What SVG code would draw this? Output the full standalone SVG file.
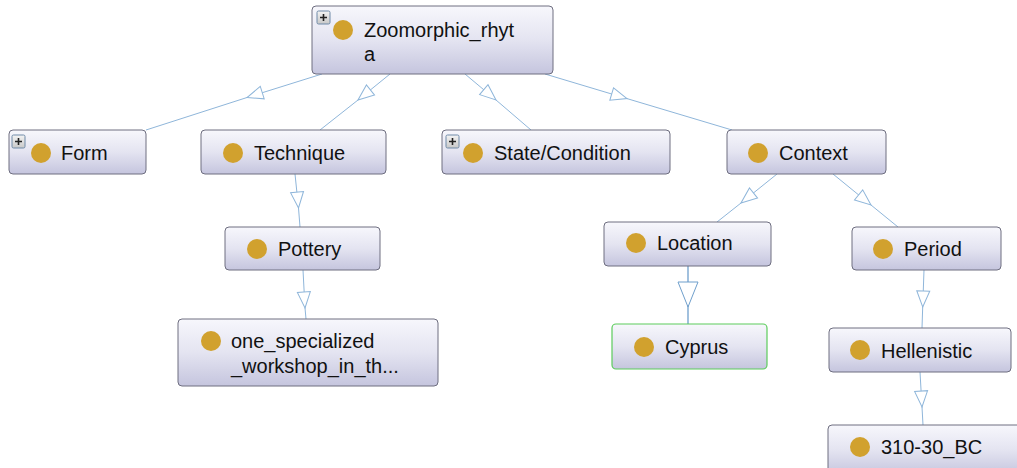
<svg xmlns="http://www.w3.org/2000/svg" width="1017" height="468" viewBox="0 0 1017 468">
  <defs>
    <linearGradient id="nodeFill" x1="0" y1="0" x2="0" y2="1">
      <stop offset="0" stop-color="#f7f7fc"/>
      <stop offset="0.5" stop-color="#e4e4f1"/>
      <stop offset="1" stop-color="#c5c5de"/>
    </linearGradient>
    <linearGradient id="plusFill" x1="0" y1="0" x2="0" y2="1">
      <stop offset="0" stop-color="#f4f4f4"/>
      <stop offset="1" stop-color="#c8c8c8"/>
    </linearGradient>
    <marker id="tri" markerUnits="userSpaceOnUse" markerWidth="20" markerHeight="16" viewBox="-17 -8 18 16" refX="0" refY="0" orient="auto">
      <path d="M0,0 L-16,-6.5 L-16,6.5 Z" fill="#ffffff" stroke="#8fb6da" stroke-width="1"/>
    </marker>
    <marker id="triBig" markerUnits="userSpaceOnUse" markerWidth="28" markerHeight="24" viewBox="-26 -12 27 24" refX="0" refY="0" orient="auto">
      <path d="M0,0 L-25,-10 L-25,10 Z" fill="#ffffff" stroke="#6f9fcc" stroke-width="1"/>
    </marker>
  </defs>
  <style>
    .box { fill: url(#nodeFill); stroke: #6e6e80; stroke-width: 1; }
    .boxSel { fill: url(#nodeFill); stroke: #5ccc5c; stroke-width: 1.2; }
    .dot { fill: #d1a12e; }
    .lbl { font-family: "Liberation Sans", Arial, sans-serif; font-size: 20px; fill: #111111; }
    .plus rect { fill: url(#plusFill); stroke: #6f8aa8; stroke-width: 1; }
    .plus path { stroke: #222222; stroke-width: 1.6; fill: none; }
    .edge { fill: none; stroke: #8fb6da; stroke-width: 1; marker-mid: url(#tri); }
    .edgeDark { fill: none; stroke: #6f9fcc; stroke-width: 1.3; marker-mid: url(#triBig); }
  </style>

  <!-- subclass links, open triangle mid-way pointing to the child -->
  <g id="connectors">
    <polyline class="edge" points="322,74 247,97.5 146,130"/>
    <polyline class="edge" points="390,74 358,100 320,130"/>
    <polyline class="edge" points="465,74 496,100 531,130"/>
    <polyline class="edge" points="545,74 627,98.6 732,130"/>
    <polyline class="edge" points="777,174 741,203 717,222"/>
    <polyline class="edge" points="833,174 871,205 898,227"/>
    <polyline class="edge" points="295,174 298.5,208 300,227"/>
    <polyline class="edge" points="303,270 305,308 306,319"/>
    <polyline class="edgeDark" points="688,266 688,307 688,324"/>
    <polyline class="edge" points="924,270 922.7,307 922,328"/>
    <polyline class="edge" points="920,372 922,407 923,425"/>
  </g>

  <g id="node-zoomorphic">
    <rect class="box" x="312" y="6" width="241" height="68" rx="4"/>
    <g class="plus"><rect x="317" y="11" width="13" height="13" rx="1.5"/><path d="M320,17.5 H327 M323.5,14 V21"/></g>
    <circle class="dot" cx="343" cy="30" r="10"/>
    <text class="lbl" x="364" y="37">Zoomorphic_rhyt</text>
    <text class="lbl" x="364" y="61">a</text>
  </g>

  <g id="node-form">
    <rect class="box" x="9" y="130" width="137" height="44" rx="4"/>
    <g class="plus"><rect x="12" y="135" width="13" height="13" rx="1.5"/><path d="M15,141.5 H22 M18.5,138 V145"/></g>
    <circle class="dot" cx="41" cy="153" r="10"/>
    <text class="lbl" x="61" y="160">Form</text>
  </g>

  <g id="node-technique">
    <rect class="box" x="201" y="130" width="185" height="44" rx="4"/>
    <circle class="dot" cx="233" cy="153" r="10"/>
    <text class="lbl" x="254" y="160">Technique</text>
  </g>

  <g id="node-state">
    <rect class="box" x="442" y="130" width="228" height="44" rx="4"/>
    <g class="plus"><rect x="446" y="135" width="13" height="13" rx="1.5"/><path d="M449,141.5 H456 M452.5,138 V145"/></g>
    <circle class="dot" cx="473" cy="153" r="10"/>
    <text class="lbl" x="494" y="160">State/Condition</text>
  </g>

  <g id="node-context">
    <rect class="box" x="727" y="130" width="159" height="44" rx="4"/>
    <circle class="dot" cx="758" cy="153" r="10"/>
    <text class="lbl" x="779" y="160">Context</text>
  </g>

  <g id="node-pottery">
    <rect class="box" x="225" y="227" width="155" height="43" rx="4"/>
    <circle class="dot" cx="257" cy="249" r="10"/>
    <text class="lbl" x="278" y="256">Pottery</text>
  </g>

  <g id="node-workshop">
    <rect class="box" x="178" y="319" width="260" height="67" rx="4"/>
    <circle class="dot" cx="211" cy="341" r="10"/>
    <text class="lbl" x="231" y="348">one_specialized</text>
    <text class="lbl" x="231" y="373">_workshop_in_th...</text>
  </g>

  <g id="node-location">
    <rect class="box" x="604" y="222" width="167" height="44" rx="4"/>
    <circle class="dot" cx="636" cy="243" r="10"/>
    <text class="lbl" x="657" y="250">Location</text>
  </g>

  <g id="node-period">
    <rect class="box" x="852" y="227" width="149" height="43" rx="4"/>
    <circle class="dot" cx="883" cy="249" r="10"/>
    <text class="lbl" x="904" y="256">Period</text>
  </g>

  <g id="node-cyprus">
    <rect class="boxSel" x="612" y="324" width="155" height="45" rx="4"/>
    <circle class="dot" cx="644" cy="347" r="10"/>
    <text class="lbl" x="665" y="354">Cyprus</text>
  </g>

  <g id="node-hellenistic">
    <rect class="box" x="829" y="328" width="182" height="44" rx="4"/>
    <circle class="dot" cx="860" cy="350" r="10"/>
    <text class="lbl" x="881" y="358">Hellenistic</text>
  </g>

  <g id="node-bc">
    <rect class="box" x="828" y="425" width="195" height="50" rx="4"/>
    <circle class="dot" cx="860" cy="447" r="10"/>
    <text class="lbl" x="881" y="454">310-30_BC</text>
  </g>
</svg>
